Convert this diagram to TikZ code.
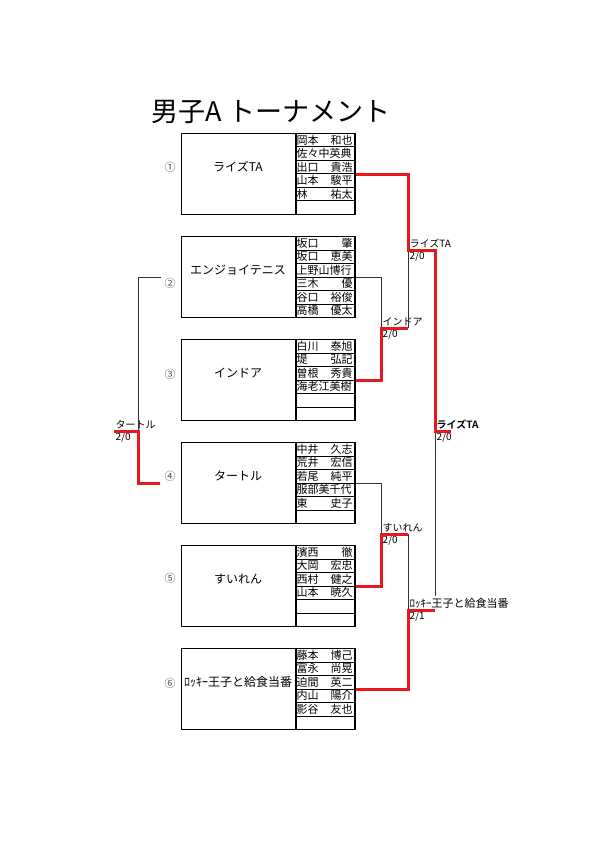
\documentclass[tikz,border=0pt]{standalone}
\usepackage{fontspec}
\setmainfont{Noto Sans CJK JP}[BoldFont={Noto Sans CJK JP Bold}]
\usepackage{tikz}
\usetikzlibrary{positioning, calc}
\definecolor{winred}{HTML}{E8161E}
\definecolor{muted}{HTML}{505050}
\definecolor{lineblk}{HTML}{333333}

\begin{document}
\begin{tikzpicture}[
    x=1pt, y=-1pt,
    every node/.style={font=\fontsize{10}{11}\selectfont},
    teambox/.style={rectangle, draw, line width=1.1pt, anchor=north west,
                    minimum width=114pt, minimum height=81pt, inner sep=0pt},
    roster/.style={rectangle, draw, line width=1.1pt, anchor=north west,
                   minimum width=59pt, minimum height=81pt, inner sep=0pt},
    cell/.style={rectangle, draw, line width=0.7pt, anchor=north west,
                 minimum width=59pt, minimum height=13.5pt, inner sep=0pt},
    player/.style={anchor=west, inner xsep=1.5pt, inner ysep=0pt,
                   text width=56pt, font=\fontsize{11}{12}\selectfont},
    tname/.style={font=\fontsize{12}{14}\selectfont},
    seed/.style={font=\fontsize{11}{12}\selectfont, color=muted},
    tag/.style={inner sep=1.5pt, font=\fontsize{10}{11}\selectfont},
    loser/.style={line width=0.8pt, color=lineblk},
    winner/.style={line width=3pt, color=winred}
]
\useasboundingbox (0,0) rectangle (595,842);

% Title
\node[font=\fontsize{27}{30}\selectfont] (title) at (271,112) {男子A トーナメント};

% Team boxes with rosters
\foreach \i/\seedmark/\tname/\ny/\members in {
    1/①/ライズTA/167/{岡本/和也, 佐々中英典/{}, 出口/貴浩, 山本/駿平, 林/祐太},
    2/②/エンジョイテニス/283/{坂口/肇, 坂口/恵美, 上野山博行/{}, 三木/優, 谷口/裕俊, 高橋/優太},
    3/③/インドア/374/{白川/泰旭, 堤/弘記, 曽根/秀貴, 海老江美樹/{}},
    4/④/タートル/476/{中井/久志, 荒井/宏信, 若尾/純平, 服部美千代/{}, 東/史子},
    5/⑤/すいれん/578/{濱西/徹, 大岡/宏忠, 西村/健之, 山本/暁久},
    6/⑥/ﾛｯｷｰ王子と給食当番/683/{藤本/博己, 富永/尚晃, 迫間/英二, 内山/陽介, 影谷/友也}}{
  \pgfmathsetmacro\ytop{133+103*(\i-1)}
  \node[teambox] (team\i) at (181,\ytop) {};
  \foreach \j in {1,...,6}
    \node[cell] at (295,{\ytop+13.5*(\j-1)}) {};
  \node[roster] (roster\i) at (team\i.north east) {};
  \foreach \fam/\giv [count=\j] in \members
    \node[player] at (295,{\ytop+13.5*\j-6.5}) {\fam\hfill\giv};
  \node[tname] (tname\i) at (238,{\ytop+34}) {\tname};
  \node[seed] (seed\i) at (170,\ny) {\seedmark};
}

% Junctions
\coordinate (r1a) at (381,328);
\coordinate (r1b) at (381,534);
\coordinate (sfa) at (408,250);
\coordinate (sfb) at (408,610);
\coordinate (fin) at (435,431);
\coordinate (finend) at (451,431);
\coordinate (pl2) at ($(team2.west)+(-20,0)$);
\coordinate (pl4) at ($(team4.west)+(-21,0)$);
\coordinate (plj) at (138,431);
\coordinate (plend) at (114,431);

% Result labels
\node[tag, anchor=south west] (lblr1a) at (r1a) {インドア};
\node[tag, anchor=north west] at (r1a) {2/0};
\node[tag, anchor=south west] (lblr1b) at (r1b) {すいれん};
\node[tag, anchor=north west] at (r1b) {2/0};
\node[tag, anchor=south west] (lblsfa) at (sfa) {ライズTA};
\node[tag, anchor=north west] at (sfa) {2/0};
\node[tag, anchor=south west, font=\fontsize{11}{12}\selectfont]
    (lblsfb) at (sfb) {ﾛｯｷｰ王子と給食当番};
\node[tag, anchor=north west] at (sfb) {2/1};
\node[tag, anchor=south west, font=\fontsize{10}{11}\selectfont\bfseries]
    (lblfin) at (fin) {ライズTA};
\node[tag, anchor=north west] at (fin) {2/0};
\node[tag, anchor=south west] (lblpl) at (plend) {タートル};
\node[tag, anchor=north west] at (plend) {2/0};

% Losing paths
\draw[loser] (roster2.east) -| (r1a);
\draw[loser] (r1a -| sfa) -- (sfa);
\draw[loser] (roster4.east) -| (r1b);
\draw[loser] (r1b -| sfb) -- (sfb);
\draw[loser] (fin) -- (lblsfb.north -| fin);
\draw[loser] (pl2) -| (plj);

% Winning paths
\draw[winner] (roster3.east) -| (r1a) -- (r1a -| sfa);
\draw[winner] (roster5.east) -| (r1b) -- (r1b -| sfb);
\draw[winner] (roster6.east) -| (sfb) -- (sfb -| fin);
\draw[winner] (roster1.east) -| (sfa) -- (sfa -| fin) -- (fin) -- (finend);
\draw[winner] (pl4) -| (plj) -- (plend);

\end{tikzpicture}
\end{document}
